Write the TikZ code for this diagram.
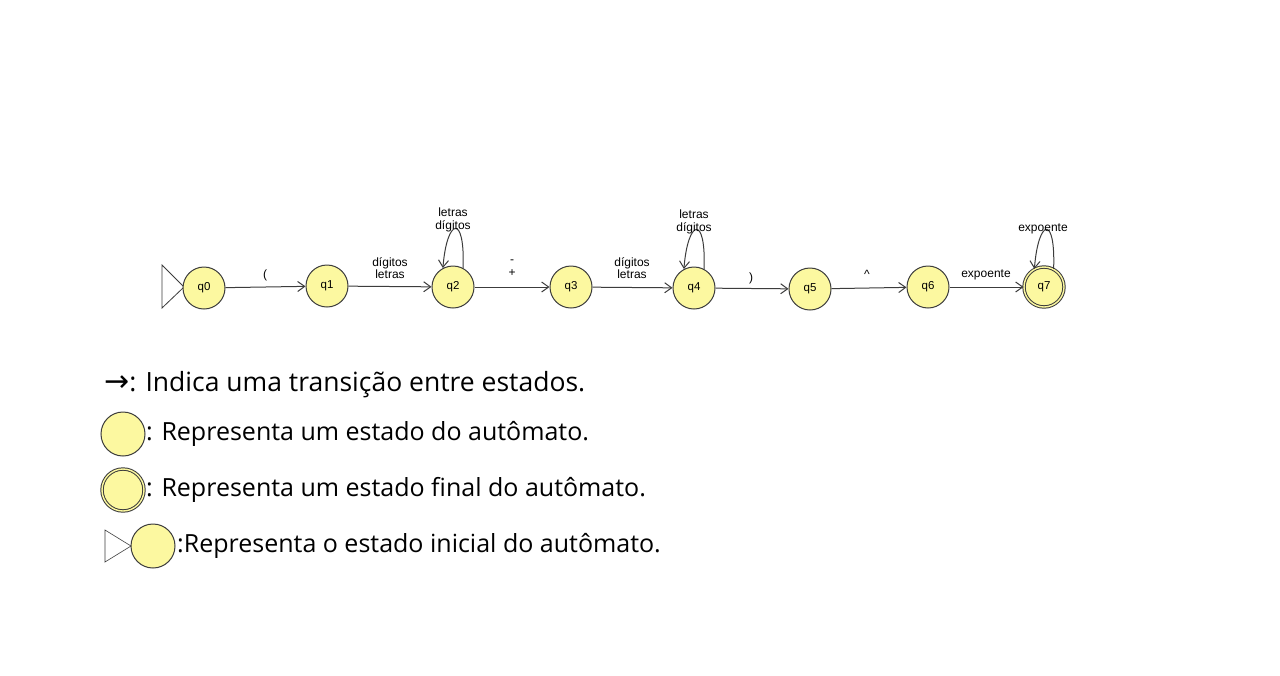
\documentclass[tikz,border=0pt]{standalone}
\usepackage{fontspec}
\setmainfont{Liberation Sans}
\newfontfamily\legendfont{Open Sans}
\newfontfamily\symfont{DejaVu Sans}
\usetikzlibrary{arrows.meta}
\definecolor{stfill}{RGB}{252,248,160}
\definecolor{stline}{RGB}{60,60,60}
\tikzset{
  state/.style={circle,draw=stline,fill=stfill,line width=1pt,minimum size=42pt,inner sep=0pt,font=\fontsize{11.5}{12}\selectfont},
  accept/.style={state,double=stfill,double distance=1.4pt,minimum size=40pt},
  trans/.style={draw=stline,line width=1pt,-{Straight Barb[length=7pt,width=10pt]}},
  lbl/.style={font=\fontsize{12}{12.5}\selectfont,align=center,inner sep=0pt},
  legtext/.style={font=\legendfont\fontsize{25}{28}\selectfont,anchor=west,inner sep=0pt},
  initri/.style={draw=stline,line width=0.8pt,fill=white}
}
\begin{document}
\begin{tikzpicture}[x=1pt,y=-1pt]
\useasboundingbox (0,0) rectangle (1280,675);
\fill[white] (0,0) rectangle (1280,675);
% initial triangle
\draw[initri] (162,265) -- (184,287) -- (162,308) -- cycle;
\node[state] (q0) at (204,288) {q0};
\node[state] (q1) at (327,286) {q1};
\node[state] (q2) at (453,287) {q2};
\node[state] (q3) at (571,287) {q3};
\node[state] (q4) at (694,288) {q4};
\node[state] (q5) at (810,289) {q5};
\node[state] (q6) at (928,287) {q6};
\node[accept] (q7) at (1044,287) {q7};

\draw[trans] (q0) -- (q1);
\draw[trans] (q1) -- (q2);
\draw[trans] (q2) -- (q3);
\draw[trans] (q3) -- (q4);
\draw[trans] (q4) -- (q5);
\draw[trans] (q5) -- (q6);
\draw[trans] (q6) -- (q7);

\draw[trans] (q2.62) .. controls +(2,-55) and +(4,-50) .. (q2.118);
\draw[trans] (q4.62) .. controls +(2,-55) and +(4,-50) .. (q4.118);
\draw[trans] (q7.62) .. controls +(2,-55) and +(4,-50) .. (q7.118);

\node[lbl] (l01) at (265,275) {(};
\node[lbl] (l12) at (390,268) {dígitos\\letras};
\node[lbl] (l23) at (512,268) {-\\+};
\node[lbl] (l34) at (632,268) {dígitos\\letras};
\node[lbl] (l45) at (751,278) {)};
\node[lbl] (l56) at (867,274) {\textasciicircum};
\node[lbl] (l67) at (986,275) {expoente};
\node[lbl] (l22) at (453,220) {letras\\dígitos};
\node[lbl] (l44) at (694,222) {letras\\dígitos};
\node[lbl] (l77) at (1043,229) {expoente};

% legend
\node[legtext,font=\legendfont\fontsize{26.5}{28}\selectfont] (t1) at (104,385) {{\symfont\fontsize{30}{30}\selectfont →}: Indica uma transição entre estados.};
\node[state,minimum size=44pt] (c2) at (123,434) {};
\node[legtext] (t2) at (146,434) {: Representa um estado do autômato.};
\node[accept,minimum size=42pt] (c3) at (123,490) {};
\node[legtext] (t3) at (146,490) {: Representa um estado final do autômato.};
\draw[initri,line width=0.6pt] (105,530) -- (131,546) -- (105,562) -- cycle;
\node[state,minimum size=44pt] (c4) at (153,546) {};
\node[legtext] (t4) at (177,546) {:Representa o estado inicial do autômato.};
\end{tikzpicture}
\end{document}
